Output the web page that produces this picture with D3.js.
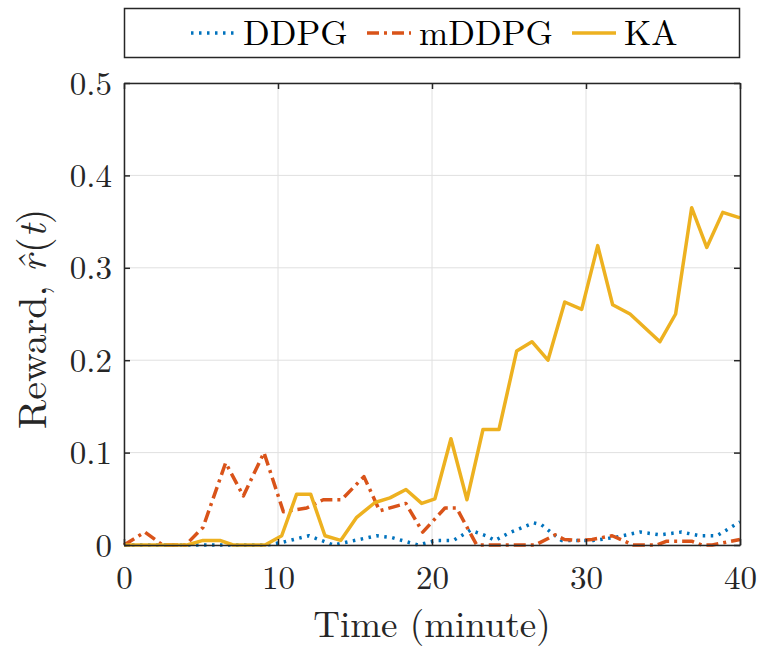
<!DOCTYPE html>
<html>
<head>
<meta charset="utf-8">
<script src="https://cdn.jsdelivr.net/npm/d3@7"></script>
<style>
  body { margin: 0; background: #fff; }
</style>
</head>
<body>
<div id="chart"></div>
<script>
const width = 760;
const height = 649;
const margin = { top: 83, left: 124, bottom: 104, right: 20 };
const fontFamily = "'Latin Modern Roman', 'Liberation Serif', serif";

// series (time in minutes, reward)
const kaTime = [0, 4.1, 5.13, 6.23, 7.08, 9.16, 10.24, 11.21, 12.12, 13.05, 14.07, 15.11, 16.3, 17.27, 18.31, 19.33, 20.19, 21.23, 22.27, 23.31, 24.35, 25.5, 26.49, 27.53, 28.62, 29.72, 30.76, 31.73, 32.86, 34.8, 35.82, 36.86, 37.84, 38.88, 40];
const kaValue = [0, 0, 0.005, 0.005, 0, 0, 0.01, 0.055, 0.055, 0.01, 0.005, 0.03, 0.046, 0.051, 0.06, 0.045, 0.05, 0.115, 0.049, 0.125, 0.125, 0.21, 0.22, 0.2, 0.263, 0.255, 0.324, 0.26, 0.25, 0.22, 0.25, 0.365, 0.322, 0.36, 0.354];

const mddpgTime = [0, 1.36, 2.5, 4.0, 5.13, 6.6, 7.75, 9.09, 10.35, 11.86, 12.94, 14.13, 15.58, 16.6, 18.3, 19.4, 20.84, 21.6, 22.9, 26.7, 28.0, 28.6, 29.5, 30.4, 31.7, 32.4, 33.05, 34.6, 35.2, 36.9, 37.5, 38.2, 40];
const mddpgValue = [0, 0.014, 0, 0, 0.019, 0.089, 0.053, 0.1, 0.036, 0.04, 0.049, 0.049, 0.074, 0.037, 0.045, 0.014, 0.04, 0.04, 0, 0, 0.011, 0.006, 0.005, 0.006, 0.01, 0.005, 0, 0, 0.004, 0.004, 0, 0, 0.006];

const ddpgTime = [0, 5, 9.3, 10.3, 12.0, 13.6, 16.4, 17.4, 19.1, 20.3, 21.4, 22.5, 23.5, 24.1, 25.0, 26.6, 27.1, 28.4, 30.5, 31.8, 33.5, 34.8, 36.2, 37.4, 38.5, 40];
const ddpgValue = [0, 0, 0, 0.003, 0.01, 0, 0.01, 0.008, 0, 0.005, 0.005, 0.016, 0.01, 0.005, 0.013, 0.024, 0.022, 0.005, 0.005, 0.008, 0.014, 0.011, 0.014, 0.01, 0.01, 0.025];

const xTicks = [0, 10, 20, 30, 40];
const yTicks = [0, 0.1, 0.2, 0.3, 0.4, 0.5];

const series = [
  { name: "DDPG", time: ddpgTime, value: ddpgValue, color: "#0072BD", dash: "2.5,5.5" },
  { name: "mDDPG", time: mddpgTime, value: mddpgValue, color: "#D95319", dash: "12,5,3,5" },
  { name: "KA", time: kaTime, value: kaValue, color: "#EDB120", dash: null }
];

const innerW = width - margin.left - margin.right;
const innerH = height - margin.top - margin.bottom;

const xScale = d3.scaleLinear().domain([0, 40]).range([0, innerW]);
const yScale = d3.scaleLinear().domain([0, 0.5]).range([innerH, 0]);

const svg = d3.select("#chart").append("svg").attr("width", width).attr("height", height);
const g = svg.append("g").attr("transform", `translate(${margin.left},${margin.top})`);

//grid
g.append("g").selectAll("line").data(xTicks).join("line")
  .attr("x1", d => xScale(d)).attr("x2", d => xScale(d))
  .attr("y1", 0).attr("y2", innerH)
  .attr("stroke", "#e0e0e0").attr("stroke-width", 1);
g.append("g").selectAll("line").data(yTicks).join("line")
  .attr("x1", 0).attr("x2", innerW)
  .attr("y1", d => yScale(d)).attr("y2", d => yScale(d))
  .attr("stroke", "#e0e0e0").attr("stroke-width", 1);

//lines
series.forEach(s => {
  const pts = s.time.map((t, i) => [t, s.value[i]]);
  const line = d3.line().x(d => xScale(d[0])).y(d => yScale(d[1]));
  g.append("path")
    .datum(pts)
    .attr("fill", "none")
    .attr("stroke", s.color)
    .attr("stroke-width", 3.5)
    .attr("stroke-dasharray", s.dash)
    .attr("stroke-linejoin", "round")
    .attr("d", line);
});

//axes, ticks inward
const tickStyle = sel => {
  sel.attr("font-family", fontFamily).attr("font-size", 33);
  sel.select(".domain").attr("stroke", "#262626").attr("stroke-width", 1.5);
  sel.selectAll(".tick line").attr("stroke", "#262626").attr("stroke-width", 1.5);
  sel.selectAll("text").attr("fill", "#262626");
};

g.append("g").attr("transform", `translate(0,${innerH})`)
  .call(d3.axisBottom(xScale).tickValues(xTicks).tickSizeInner(-6).tickSizeOuter(0).tickFormat(d => d))
  .call(tickStyle)
  .call(a => a.selectAll("text").attr("y", 44).attr("dy", null));
g.append("g")
  .call(d3.axisLeft(yScale).tickValues(yTicks).tickSizeInner(-6).tickSizeOuter(0).tickFormat(d => d === 0 ? "0" : d3.format(".1f")(d)))
  .call(tickStyle)
  .call(a => a.selectAll("text").attr("x", -12).attr("y", 11).attr("dy", null));
g.append("g")
  .call(d3.axisTop(xScale).tickValues(xTicks).tickSizeInner(-6).tickSizeOuter(0).tickFormat(""))
  .call(tickStyle);
g.append("g").attr("transform", `translate(${innerW},0)`)
  .call(d3.axisRight(yScale).tickValues(yTicks).tickSizeInner(-6).tickSizeOuter(0).tickFormat(""))
  .call(tickStyle);

//axis labels
svg.append("text")
  .attr("x", margin.left + innerW / 2).attr("y", 637)
  .attr("text-anchor", "middle")
  .attr("font-family", fontFamily).attr("font-size", 37).attr("fill", "#262626")
  .text("Time (minute)");

const yl = svg.append("text")
  .attr("transform", `translate(46,${margin.top + innerH / 2 + 5}) rotate(-90)`)
  .attr("text-anchor", "middle")
  .attr("font-family", fontFamily).attr("font-size", 40).attr("fill", "#262626");
yl.append("tspan").text("Reward, ");
yl.append("tspan").attr("font-style", "italic").text("r\u0302");
yl.append("tspan").attr("dx", 2).text("(");
yl.append("tspan").attr("font-style", "italic").text("t");
yl.append("tspan").text(")");

//legend
const legend = svg.append("g");
legend.append("rect")
  .attr("x", 124.5).attr("y", 8.5).attr("width", 615).attr("height", 49)
  .attr("fill", "#fff").attr("stroke", "#262626").attr("stroke-width", 1.5);

const legendLineX = [191, 367, 572];
const legendTextX = [243, 419, 624];
series.forEach((s, i) => {
  legend.append("line")
    .attr("x1", legendLineX[i]).attr("x2", legendLineX[i] + 44)
    .attr("y1", 33).attr("y2", 33)
    .attr("stroke", s.color).attr("stroke-width", 3.5)
    .attr("stroke-dasharray", s.dash);
  legend.append("text")
    .attr("x", legendTextX[i]).attr("y", 45)
    .attr("font-family", fontFamily).attr("font-size", 35).attr("fill", "#000")
    .text(s.name);
});
</script>
</body>
</html>
